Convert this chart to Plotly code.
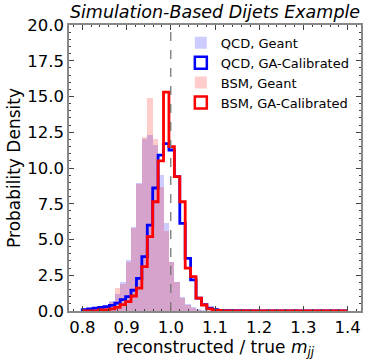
import numpy as np
import plotly.graph_objects as go

# bin layout: 50 edges -> 49 bins
bin_lo, bin_hi, n_edges = 0.8, 1.4, 50
edges = np.linspace(bin_lo, bin_hi, n_edges)

qcd_geant = [0.05, 0.08, 0.12, 0.2, 0.35, 0.7, 1.2, 2.05, 3.57, 5.9,
             8.93, 12.0, 12.3, 11.6, 9.5, 6.13, 3.45, 2.0, 0.95, 0.5,
             0.25, 0.12, 0.05, 0, 0, 0, 0, 0, 0, 0,
             0, 0, 0, 0, 0, 0, 0, 0, 0, 0,
             0, 0, 0, 0, 0, 0, 0, 0, 0]
qcd_ga = [0.1, 0.15, 0.2, 0.25, 0.3, 0.4, 0.55, 0.8, 1.0, 1.45,
          2.28, 3.8, 6.0, 8.6, 10.9, 11.7, 11.26, 9.4, 6.13, 3.68,
          2.17, 0.9, 0.45, 0.2, 0.1, 0.05, 0.03, 0.02, 0, 0,
          0, 0, 0, 0, 0, 0, 0, 0, 0, 0,
          0, 0, 0, 0, 0, 0, 0, 0, 0]
bsm_geant = [0, 0, 0, 0.05, 0.2, 0.6, 1.58, 1.9, 3.4, 5.8,
             8.9, 12.2, 14.87, 12.0, 8.7, 5.6, 3.45, 2.05, 0.9, 0.45,
             0.2, 0.08, 0, 0, 0, 0, 0, 0, 0, 0,
             0, 0, 0, 0, 0, 0, 0, 0, 0, 0,
             0, 0, 0, 0, 0, 0, 0, 0, 0]
bsm_ga = [0, 0, 0.03, 0.08, 0.1, 0.15, 0.25, 0.45, 0.65, 1.05,
          1.6, 3.1, 5.2, 7.64, 10.5, 15.3, 11.5, 9.4, 7.64, 3.0,
          2.4, 0.9, 0.42, 0.15, 0.08, 0.03, 0.02, 0, 0, 0,
          0, 0, 0, 0, 0, 0, 0, 0, 0, 0,
          0, 0, 0, 0, 0, 0, 0, 0, 0]

names = ["QCD, Geant", "QCD, GA-Calibrated", "BSM, Geant", "BSM, GA-Calibrated"]
x_ticks = [0.8, 0.9, 1.0, 1.1, 1.2, 1.3, 1.4]
y_ticks = [0, 2.5, 5, 7.5, 10, 12.5, 15, 17.5, 20]

centers = 0.5 * (edges[:-1] + edges[1:])
width = edges[1] - edges[0]

def step_xy(vals):
    xs = [edges[0]]
    ys = [0]
    for i, v in enumerate(vals):
        xs += [edges[i], edges[i + 1]]
        ys += [v, v]
    xs.append(edges[-1])
    ys.append(0)
    return xs, ys

fig = go.Figure()

fig.add_trace(go.Bar(x=centers, y=qcd_geant, width=width, name=names[0],
                     marker=dict(color="rgba(0,0,255,0.2)", line=dict(width=0)),
                     showlegend=False))
fig.add_trace(go.Bar(x=centers, y=bsm_geant, width=width, name=names[2],
                     marker=dict(color="rgba(255,0,0,0.2)", line=dict(width=0)),
                     showlegend=False))
xs, ys = step_xy(qcd_ga)
fig.add_trace(go.Scatter(x=xs, y=ys, mode="lines", line=dict(color="blue", width=2.8),
                         showlegend=False))
xs, ys = step_xy(bsm_ga)
fig.add_trace(go.Scatter(x=xs, y=ys, mode="lines", line=dict(color="red", width=2.8),
                         showlegend=False))

# legend proxies
leg_styles = [("rgba(0,0,255,0.2)", "rgba(0,0,0,0)", 0),
              ("white", "blue", 2.5),
              ("rgba(255,0,0,0.2)", "rgba(0,0,0,0)", 0),
              ("white", "red", 2.5)]
for nm, (fc, lc, lw) in zip(names, leg_styles):
    fig.add_trace(go.Bar(x=[None], y=[None], name=nm,
                         marker=dict(color=fc, line=dict(color=lc, width=lw))))

fig.add_shape(type="line", x0=1.0, x1=1.0, y0=0, y1=1, yref="paper", xref="x",
              line=dict(color="#777777", width=1.3, dash="dash"))

axis_common = dict(showgrid=False, zeroline=False, ticks="inside", mirror="ticks",
                   showline=True, linecolor="#888888", linewidth=1.5,
                   tickcolor="#444444", ticklen=5, tickwidth=1,
                   tickfont=dict(size=16.5, color="black", family="DejaVu Sans"))

fig.update_layout(
    width=370, height=361,
    margin=dict(l=69, r=7, t=25, b=50),
    plot_bgcolor="white", paper_bgcolor="white",
    barmode="overlay", bargap=0,
    font=dict(family="DejaVu Sans", color="black"),
    title=dict(text="<i>Simulation-Based Dijets Example</i>", x=0.5, xref="paper",
               xanchor="center", y=1 - 12 / 361, yref="container", yanchor="middle",
               font=dict(size=17.5)),
    xaxis=dict(range=[0.77, 1.43], tickvals=x_ticks,
               ticktext=[f"{v:.1f}" for v in x_ticks],
               minor=dict(ticks="inside", dtick=0.02, ticklen=2.5, tickcolor="#444444"),
               title=dict(text="reconstructed / true <i>m</i><sub><i>jj</i></sub>",
                          font=dict(size=17), standoff=3),
               **axis_common),
    yaxis=dict(range=[0, 20], tickvals=y_ticks,
               ticktext=[f"{v:.1f}" for v in y_ticks],
               minor=dict(ticks="inside", dtick=0.5, ticklen=2.5, tickcolor="#444444"),
               title=dict(text="Probability Density", font=dict(size=17), standoff=2),
               **axis_common),
    legend=dict(x=0.383, y=0.99, xanchor="left", yanchor="top",
                bgcolor="rgba(0,0,0,0)", font=dict(size=13),
                tracegroupgap=0, itemwidth=30),
)

fig.write_html("out.html", config={"displayModeBar": False},
               post_script="document.body.style.margin='0';document.body.style.padding='0';")
